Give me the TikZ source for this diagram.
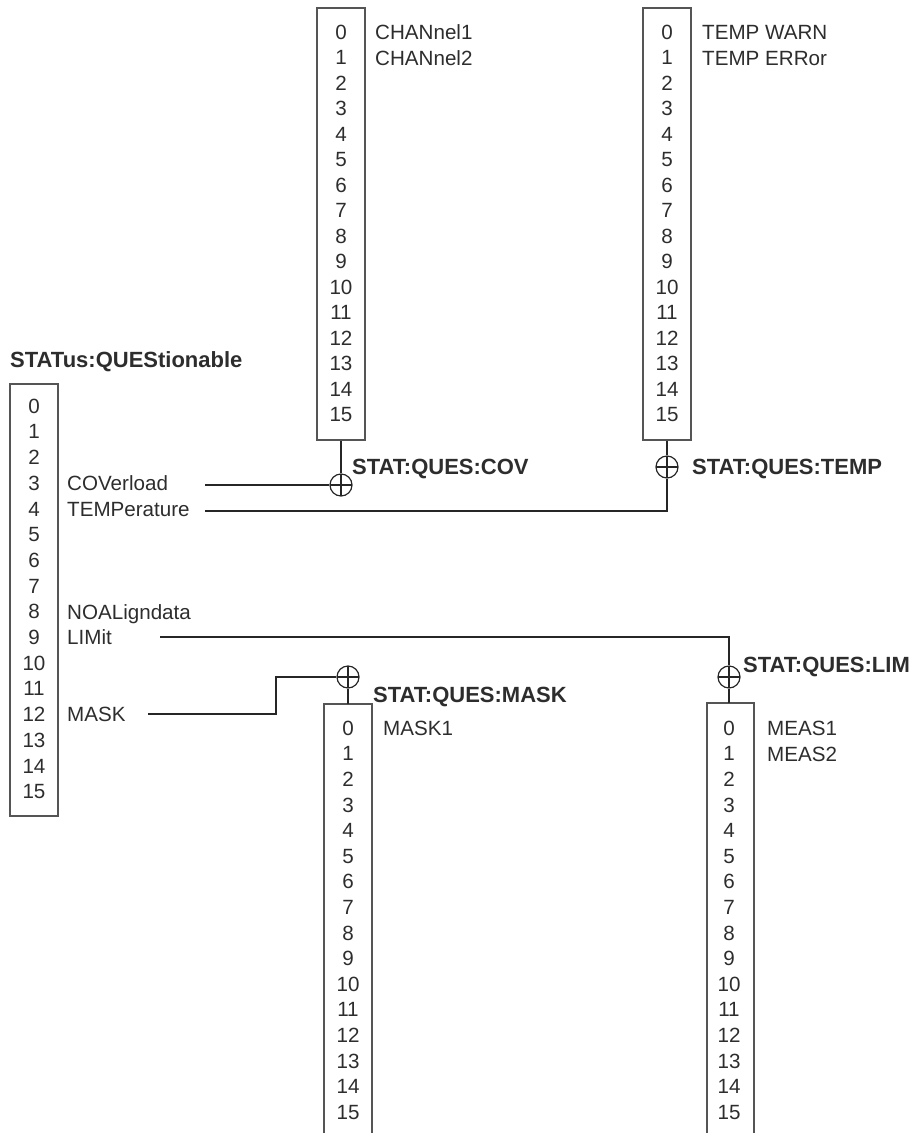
\documentclass[tikz,border=0pt]{standalone}
\usepackage{fontspec}
\setmainfont{Liberation Sans}
\usetikzlibrary{positioning}
\definecolor{RegGray}{RGB}{85,85,85}
\definecolor{TextGray}{RGB}{45,45,45}

\begin{document}
\begin{tikzpicture}[x=1pt, y=-1pt,
		regbox/.style={draw=RegGray, line width=1.5pt, minimum width=48pt, inner sep=0pt, anchor=north},
		regline/.style={draw=RegGray, line width=1.5pt},
		bit/.style={text=TextGray, inner sep=0pt, text height=14.5pt, text depth=0pt, font=\fontsize{20.6}{24}\selectfont},
		lbl/.style={bit, anchor=west},
		regname/.style={lbl, font=\fontsize{22}{24}\selectfont\bfseries},
		sumnode/.style={circle, draw=black!85, line width=1.2pt, minimum size=22pt, inner sep=0pt,
			path picture={\draw[black!85, line width=1.1pt] (path picture bounding box.north) -- (path picture bounding box.south)
				(path picture bounding box.west) -- (path picture bounding box.east);}},
		wire/.style={draw=black!85, line width=1.3pt}]
	\useasboundingbox (0,0) rectangle (916,1133);
	
	% STATus:QUEStionable
	\node[regname] (questitle) at (10,360) {STATus:QUEStionable};
	\node[regbox, minimum height=432pt] (quesreg) at (34,383) {};
	\foreach \i in {0,...,15}
		\node[bit] (ques\i) at (34,406+25.7*\i) {\i};
	\node[lbl] (covlbl) at (67,483) {COVerload};
	\node[lbl] (templbl) at (67,509) {TEMPerature};
	\node[lbl] (noallbl) at (67,612) {NOALigndata};
	\node[lbl] (limlbl) at (67,637) {LIMit};
	\node[lbl] (masklbl) at (67,714) {MASK};
	
	% STAT:QUES:COV
	\node[regbox, minimum height=432pt] (covreg) at (341,7) {};
	\foreach \i in {0,...,15}
		\node[bit] (cov\i) at (341,32+25.5*\i) {\i};
	\node[lbl] (ch1lbl) at (375,32) {CHANnel1};
	\node[lbl] (ch2lbl) at (375,58) {CHANnel2};
	\node[sumnode] (covsum) at (341,485) {};
	\node[regname] (covname) at (352,467) {STAT:QUES:COV};
	
	% STAT:QUES:TEMP
	\node[regbox, minimum height=432pt] (tempreg) at (667,7) {};
	\foreach \i in {0,...,15}
		\node[bit] (temp\i) at (667,32+25.5*\i) {\i};
	\node[lbl] (warnlbl) at (702,32) {TEMP WARN};
	\node[lbl] (errlbl) at (702,58) {TEMP ERRor};
	\node[sumnode] (tempsum) at (667,467) {};
	\node[regname] (tempname) at (692,467) {STAT:QUES:TEMP};
	
	% STAT:QUES:MASK (runs off the bottom)
	\draw[regline] (324,1133) |- (372,704) -- (372,1133);
	\coordinate (masktop) at (348,704);
	\foreach \i in {0,...,15}
		\node[bit] (mask\i) at (348,728+25.6*\i) {\i};
	\node[lbl] (mask1lbl) at (383,728) {MASK1};
	\node[sumnode] (masksum) at (348,677) {};
	\node[regname] (maskname) at (373,695) {STAT:QUES:MASK};
	
	% STAT:QUES:LIM (runs off the bottom)
	\draw[regline] (707,1133) |- (754,703) -- (754,1133);
	\coordinate (limtop) at (729,703);
	\foreach \i in {0,...,15}
		\node[bit] (lim\i) at (729,728+25.6*\i) {\i};
	\node[lbl] (meas1lbl) at (767,728) {MEAS1};
	\node[lbl] (meas2lbl) at (767,754) {MEAS2};
	\node[sumnode] (limsum) at (729,677) {};
	\node[regname] (limname) at (743,665) {STAT:QUES:LIM};
	
	% Verbindungen
	\coordinate (covin) at (205,485);
	\coordinate (tempin) at (205,511);
	\coordinate (limin) at (160,637);
	\coordinate (maskin) at (148,714);
	\draw[wire] (covreg.south) -- (covsum.north);
	\draw[wire] (covin) -- (covsum.west);
	\draw[wire] (tempreg.south) -- (tempsum.north);
	\draw[wire] (tempin) -| (tempsum.south);
	\draw[wire] (limin) -| (limsum.north);
	\draw[wire] (limsum.south) -- (limtop);
	\draw[wire] (maskin) -- ++(128,0) |- (masksum.west);
	\draw[wire] (masksum.south) -- (masktop);
\end{tikzpicture}
\end{document}
